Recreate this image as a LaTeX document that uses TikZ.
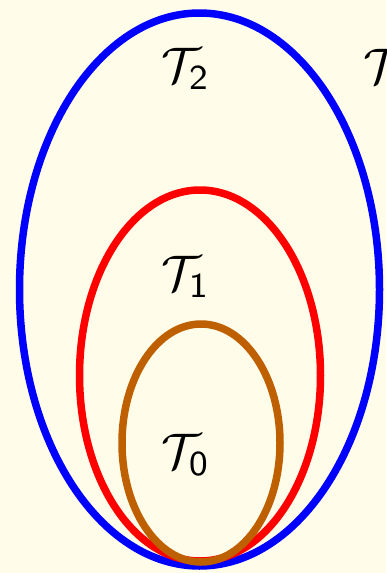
\documentclass[tikz,border=0pt]{standalone}
\usetikzlibrary{shapes.geometric}
\definecolor{bgcream}{RGB}{255,253,234}
\definecolor{ringblue}{RGB}{0,0,255}
\definecolor{ringred}{RGB}{255,0,0}
\definecolor{ringorange}{RGB}{191,96,0}
\tikzset{
  ring/.style={draw=#1, line width=7.5pt, ellipse, inner sep=0pt, fill=none},
  lab/.style={scale=5, inner sep=0pt}
}
\begin{document}
\begin{tikzpicture}[x=1pt,y=-1pt]
\path[fill=bgcream] (0,0) rectangle (386,573);
\useasboundingbox (0,0) rectangle (386,573);
\node[ring=ringblue, minimum width=360pt, minimum height=553pt] (blue) at (199.5,289.5) {};
\node[ring=ringred, minimum width=241pt, minimum height=371pt] (red) at (200,375.5) {};
\node[ring=ringorange, minimum width=158pt, minimum height=238pt] (orange) at (201,443) {};
\node[lab] (t2) at (186,69) {$\mathcal{T}_{\mathsf{2}}$};
\node[lab] (t1) at (186,277) {$\mathcal{T}_{\mathsf{1}}$};
\node[lab] (t0) at (186,455) {$\mathcal{T}_{\mathsf{0}}$};
\node[lab, anchor=west] (t3) at (362,66) {$\mathcal{T}$};
\end{tikzpicture}
\end{document}
